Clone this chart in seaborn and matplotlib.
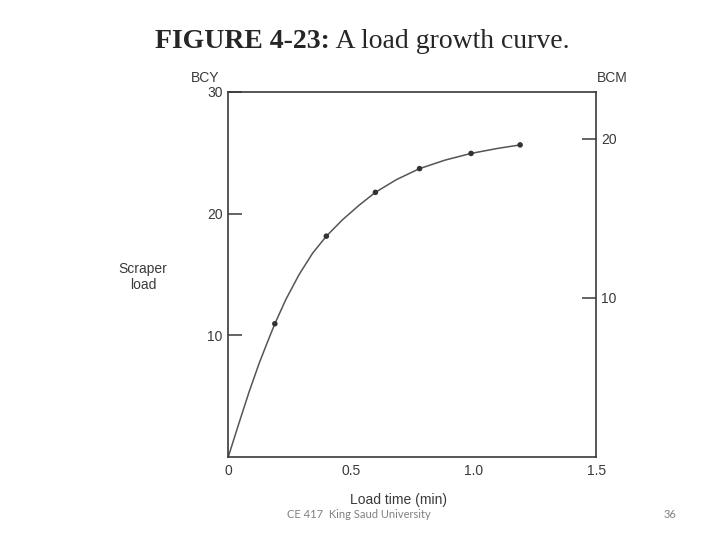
import matplotlib
matplotlib.use("Agg")
import matplotlib.pyplot as plt
import seaborn as sns
import pandas as pd

# 量測點 (load time, BCY)
load_time = [0.19, 0.40, 0.60, 0.78, 0.99, 1.19]
load_bcy = [10.95, 18.15, 21.75, 23.7, 24.95, 25.65]

# 圖上讀取的曲線位置
curve_time = [0, 0.044, 0.085, 0.126, 0.16, 0.19, 0.235, 0.289, 0.344, 0.40, 0.466,
              0.534, 0.60, 0.686, 0.78, 0.884, 0.99, 1.095, 1.19]
curve_bcy = [0, 2.8, 5.35, 7.7, 9.45, 10.95, 12.95, 15.0, 16.75, 18.15, 19.5,
             20.7, 21.75, 22.8, 23.7, 24.4, 24.95, 25.35, 25.65]

x_ticks = [0, 0.5, 1.0, 1.5]
x_labels = ["0", "0.5", "1.0", "1.5"]
bcy_ticks = [10, 20, 30]
bcm_ticks = [10, 20]
BCY_TO_BCM = 0.7646

sns.set_style("white")
plt.rcParams['font.family'] = ['Liberation Sans', 'DejaVu Sans']

ink = '#3a3a3a'
serif = ['Liberation Serif', 'DejaVu Serif']
fig = plt.figure(figsize=(7.2, 5.4), dpi=100)
ax = fig.add_axes([0.317, 0.1537, 0.511, 0.676])

df_curve = pd.DataFrame({'t': curve_time, 'y': curve_bcy})
df_pts = pd.DataFrame({'t': load_time, 'y': load_bcy})
sns.lineplot(data=df_curve, x='t', y='y', ax=ax, color='#555555', linewidth=1.1,
             estimator=None, sort=True, solid_joinstyle='round')
sns.scatterplot(data=df_pts, x='t', y='y', ax=ax, color='#333333', s=16,
                edgecolor='none', zorder=3)

ax.set_xlim(0, 1.5)
ax.set_ylim(0, 30)
ax.set_xticks(x_ticks)
ax.set_xticklabels(x_labels)
ax.set_yticks(bcy_ticks)
ax.set_xlabel('')
ax.set_ylabel('')
ax.tick_params(axis='both', direction='in', length=10, width=1.1, color=ink,
               labelsize=10, labelcolor=ink)
ax.tick_params(axis='x', pad=5)
ax.tick_params(axis='y', pad=4)
for s in ax.spines.values():
    s.set_color(ink)
    s.set_linewidth(1.2)

ax2 = ax.twinx()
ax2.set_ylim(0, 30 * BCY_TO_BCM)
ax2.set_yticks(bcm_ticks)
ax2.tick_params(axis='y', direction='in', length=10, width=1.1, color=ink,
                labelsize=10, labelcolor=ink, pad=3.5)
for s in ax2.spines.values():
    s.set_visible(False)

fig.text(205 / 720, 1 - 78 / 540, 'BCY', ha='center', va='center', fontsize=10, color=ink)
fig.text(612 / 720, 1 - 78 / 540, 'BCM', ha='center', va='center', fontsize=10, color=ink)
fig.text(143 / 720, 1 - 277 / 540, 'Scraper\nload', ha='center', va='center',
         fontsize=10, color=ink, linespacing=1.2)
fig.text(399 / 720, 1 - 500 / 540, 'Load time (min)', ha='center', va='center',
         fontsize=10, color=ink)

# 頁尾
fig.text(359 / 720, 1 - 515 / 540, 'CE 417  King Saud University', ha='center', va='center',
         fontsize=8, color='#808080', family=['Lato', 'DejaVu Sans'])
fig.text(670 / 720, 1 - 515 / 540, '36', ha='center', va='center',
         fontsize=8, color='#808080', family=['Lato', 'DejaVu Sans'])

# 標題 (粗體 + 一般)
t1 = fig.text(155 / 720, 1 - 48.5 / 540, 'FIGURE 4-23:', ha='left', va='baseline',
              fontsize=20, fontweight='bold', family=serif)
ax.annotate(' A load growth curve.', xy=(1, 0), xycoords=t1, ha='left', va='bottom',
            fontsize=20, family=serif, annotation_clip=False)

fig.savefig('out.png', dpi=100)
plt.close()
